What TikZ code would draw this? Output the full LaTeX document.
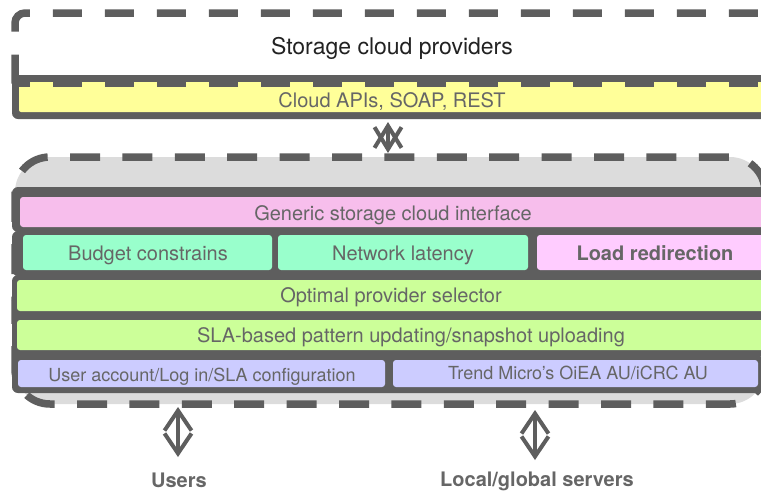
\documentclass[tikz,border=0pt]{standalone}
\usepackage{fontspec}
\setmainfont{TeX Gyre Heros}
\usetikzlibrary{arrows.meta}

\definecolor{edge}{HTML}{5E5E5E}
\definecolor{txtgray}{HTML}{666666}
\definecolor{titletxt}{HTML}{222222}
\definecolor{apiyellow}{HTML}{FFFF99}
\definecolor{ifacepink}{HTML}{F7BEEC}
\definecolor{loadpink}{HTML}{FFCCFF}
\definecolor{mint}{HTML}{99FFCC}
\definecolor{lime}{HTML}{CCFF99}
\definecolor{lavender}{HTML}{CCCCFF}
\definecolor{shell}{HTML}{DCDCDC}

\tikzset{
  rowback/.style={fill=edge, rounded corners=6pt},
  cell/.style={rounded corners=3pt},
  dashedge/.style={draw=edge, line width=7.5pt, dash pattern=on 30pt off 22.4pt},
  lbl/.style={text=txtgray, font=\fontsize{20}{24}\selectfont, inner sep=0pt, anchor=base},
  smalllbl/.style={text=txtgray, font=\fontsize{18}{22}\selectfont, inner sep=0pt, anchor=base},
  boldlbl/.style={text=txtgray, font=\fontsize{20}{24}\selectfont\bfseries, inner sep=0pt, anchor=base},
  dblarrow/.style={draw=edge, line width=4pt,
    {Straight Barb[length=#1,width=27pt]}-{Straight Barb[length=#1,width=27pt]}},
  dblarrow/.default=20pt
}

\begin{document}
\begin{tikzpicture}[x=1pt,y=-1pt]
\useasboundingbox (0,0) rectangle (761,491);
\clip (0,0) rectangle (761,491);

% ---- provider layer: API bar ----
\fill[rowback] (12,75) rectangle (800,119);
\fill[apiyellow, rounded corners=2pt] (19,82) rectangle (800,112);

% dashed outline of the provider box
\draw[draw=edge, line width=7.5pt, dash pattern=on 29pt off 23pt, dash phase=0pt,
      rounded corners=10pt] (15,83.5) -- (15,13) -- (800,13);
\draw[draw=edge, line width=7.5pt, dash pattern=on 29pt off 23pt, dash phase=14pt]
      (15,83.5) -- (800,83.5);

\node[text=titletxt, font=\fontsize{23}{27}\selectfont, inner sep=0pt, anchor=base] (providers) at (392,54) {Storage cloud providers};
\node[lbl] (apis) at (392,107) {Cloud APIs, SOAP, REST};

% ---- middleware shell ----
\fill[shell, rounded corners=35pt] (15,157) rectangle (765,404);
\draw[dashedge, dash phase=26.6pt, rounded corners=35pt] (15,300) -- (15,157) -- (765,157) -- (765,300);
\draw[dashedge, dash phase=6.2pt, rounded corners=35pt] (15,300) -- (15,404) -- (765,404) -- (765,300);

% row backgrounds
\fill[rowback] (12,187) rectangle (800,232);
\fill[rowback] (12,231) rectangle (800,276);
\fill[rowback] (12,275) rectangle (800,316);
\fill[rowback] (12,315) rectangle (800,356);
\fill[rowback] (12,355) rectangle (763,393);

% cells
\fill[ifacepink, cell] (20,197) rectangle (800,227);
\fill[mint, cell] (23,235) rectangle (272,270);
\fill[mint, cell] (278,235) rectangle (528,270);
\fill[loadpink, cell] (537,235) rectangle (800,270);
\fill[lime, cell] (17,280) rectangle (800,311);
\fill[lime, cell] (17,320) rectangle (800,350);
\fill[lavender, cell] (18,360) rectangle (385,387);
\fill[lavender, cell] (393,360) rectangle (758,387);

% labels (placed on their baselines)
\node[lbl] (iface) at (393,220) {Generic storage cloud interface};
\node[lbl] (budget) at (148,260) {Budget constrains};
\node[lbl] (latency) at (403,260) {Network latency};
\node[boldlbl] (load) at (655,260) {Load redirection};
\node[lbl] (selector) at (391,302) {Optimal provider selector};
\node[lbl] (sla) at (411,342) {SLA-based pattern updating/snapshot uploading};
\node[smalllbl] (account) at (202,381) {User account/Log in/SLA configuration};
\node[smalllbl] (trend) at (578,379) {Trend Micro’s OiEA AU/iCRC AU};

\node[boldlbl] (users) at (179,487) {Users};
\node[boldlbl] (servers) at (537,486) {Local/global servers};

% connectors
\coordinate (apiLow) at (388,122);
\coordinate (shellHigh) at (388,153);
\draw[dblarrow=22pt] (apiLow) -- (shellHigh);

\coordinate (usersHigh) at (178,407);
\coordinate (usersLow) at (178,457);
\draw[dblarrow] (usersHigh) -- (usersLow);

\coordinate (serversHigh) at (535,410);
\coordinate (serversLow) at (535,460);
\draw[dblarrow] (serversHigh) -- (serversLow);
\end{tikzpicture}
\end{document}
